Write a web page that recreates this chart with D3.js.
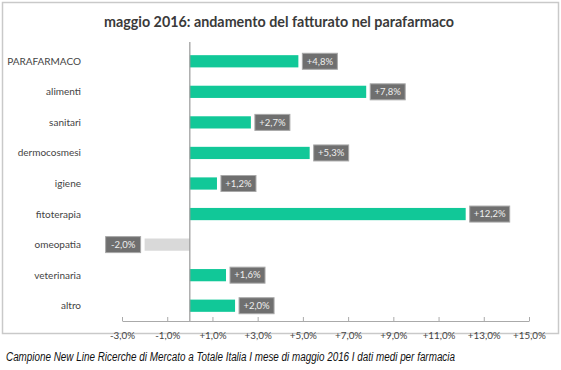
<!DOCTYPE html>
<html>
<head>
<meta charset="utf-8">
<script src="https://cdn.jsdelivr.net/npm/d3@7"></script>
<style>
  body { margin: 0; background: #fff; }
  svg text { font-family: Lato, "Open Sans", sans-serif; }
</style>
</head>
<body>
<div class="chart"></div>
<script>
    var categories = ["PARAFARMACO", "alimenti", "sanitari", "dermocosmesi", "igiene", "fitoterapia", "omeopatia", "veterinaria", "altro"];
    var values = [4.8, 7.8, 2.7, 5.3, 1.2, 12.2, -2.0, 1.6, 2.0];
    var tickValues = [-3, -1, 1, 3, 5, 7, 9, 11, 13, 15];

    var svgWidth = 561;
    var svgHeight = 370;

    var margin = { top: 46, right: 32, bottom: 50, left: 122 };

    var width = svgWidth - margin.left - margin.right;
    var height = 321 - margin.top;

    var fmt = function(v) {
        var s = Math.abs(v).toFixed(1).replace(".", ",") + "%";
        return (v < 0 ? "-" : "+") + s;
    };

    var svg = d3.select(".chart")
        .append("svg")
        .attr("width", svgWidth)
        .attr("height", svgHeight);

    // frame
    svg.append("rect")
        .attr("x", 2.5).attr("y", 2.5)
        .attr("width", 556).attr("height", 331)
        .attr("fill", "none")
        .attr("stroke", "#c9c9c9")
        .attr("stroke-width", 1.5);

    svg.append("text")
        .attr("x", 279).attr("y", 27)
        .attr("text-anchor", "middle")
        .attr("font-size", 14.3)
        .attr("font-weight", "bold")
        .attr("fill", "#3a3a3a")
        .text("maggio 2016: andamento del fatturato nel parafarmaco");

    var chartGroup = svg.append("g")
        .attr("transform", `translate(${margin.left}, ${margin.top})`);

    var xLinearScale = d3.scaleLinear()
        .domain([-3, 15])
        .range([0, width]);

    var yBandScale = d3.scaleBand()
        .domain(categories)
        .range([0, height])
        .paddingInner(0.6)
        .paddingOuter(0.3);

    var xAxis = d3.axisBottom(xLinearScale)
        .tickValues(tickValues)
        .tickFormat(fmt)
        .tickSize(-4)
        .tickSizeOuter(0)
        .tickPadding(11);

    var axisG = chartGroup.append("g")
        .attr("transform", `translate(0, ${height})`)
        .call(xAxis);
    axisG.select(".domain").attr("stroke", "#aaa");
    axisG.selectAll(".tick line").attr("stroke", "#aaa");
    axisG.selectAll("text")
        .attr("font-size", 9.8)
        .attr("fill", "#444")
        .style("font-family", "Lato, sans-serif");

    // category labels
    chartGroup.selectAll(".cat")
        .data(categories)
        .enter()
        .append("text")
        .attr("x", -41)
        .attr("y", d => yBandScale(d) + yBandScale.bandwidth() / 2)
        .attr("dy", "0.35em")
        .attr("text-anchor", "end")
        .attr("font-size", 10)
        .attr("fill", "#444")
        .text(d => d);

    var data = categories.map((c, i) => ({ cat: c, value: values[i] }));

    chartGroup.selectAll(".bar")
        .data(data)
        .enter()
        .append("rect")
        .attr("x", d => xLinearScale(Math.min(0, d.value)))
        .attr("y", d => yBandScale(d.cat))
        .attr("width", d => Math.abs(xLinearScale(d.value) - xLinearScale(0)))
        .attr("height", yBandScale.bandwidth())
        .attr("fill", d => d.value < 0 ? "#d9d9d9" : "#11c898");

    // zero line
    chartGroup.append("line")
        .attr("x1", xLinearScale(0)).attr("x2", xLinearScale(0))
        .attr("y1", -4).attr("y2", height)
        .attr("stroke", "#999")
        .attr("stroke-width", 1.2);

    // value labels
    var boxW = 35, boxH = 16, gap = 4;
    var labels = chartGroup.selectAll(".lbl")
        .data(data)
        .enter()
        .append("g")
        .attr("transform", function(d) {
            var xe = xLinearScale(d.value);
            var bx = d.value < 0 ? xe - gap - boxW : xe + gap;
            var by = yBandScale(d.cat) + yBandScale.bandwidth() / 2 - boxH / 2;
            return `translate(${bx}, ${by})`;
        });

    labels.append("rect")
        .attr("width", d => d.value >= 10 ? boxW + 5 : boxW)
        .attr("height", boxH)
        .attr("fill", "#6f6f6f")
        .attr("stroke", "#a8a8a8")
        .attr("stroke-width", 1);

    labels.append("text")
        .attr("x", d => (d.value >= 10 ? boxW + 5 : boxW) / 2)
        .attr("y", boxH / 2)
        .attr("dy", "0.35em")
        .attr("text-anchor", "middle")
        .attr("font-size", 9.5)
        .attr("fill", "#eee")
        .text(d => fmt(d.value));

    svg.append("text")
        .attr("x", 6).attr("y", 361)
        .attr("font-size", 12)
        .attr("font-style", "italic")
        .attr("fill", "#111")
        .attr("textLength", 449)
        .attr("lengthAdjust", "spacingAndGlyphs")
        .style("font-family", "'Liberation Sans Narrow', 'Liberation Sans', sans-serif")
        .text("Campione New Line Ricerche di Mercato a Totale Italia I mese di maggio 2016 I dati medi per farmacia");
</script>
</body>
</html>
